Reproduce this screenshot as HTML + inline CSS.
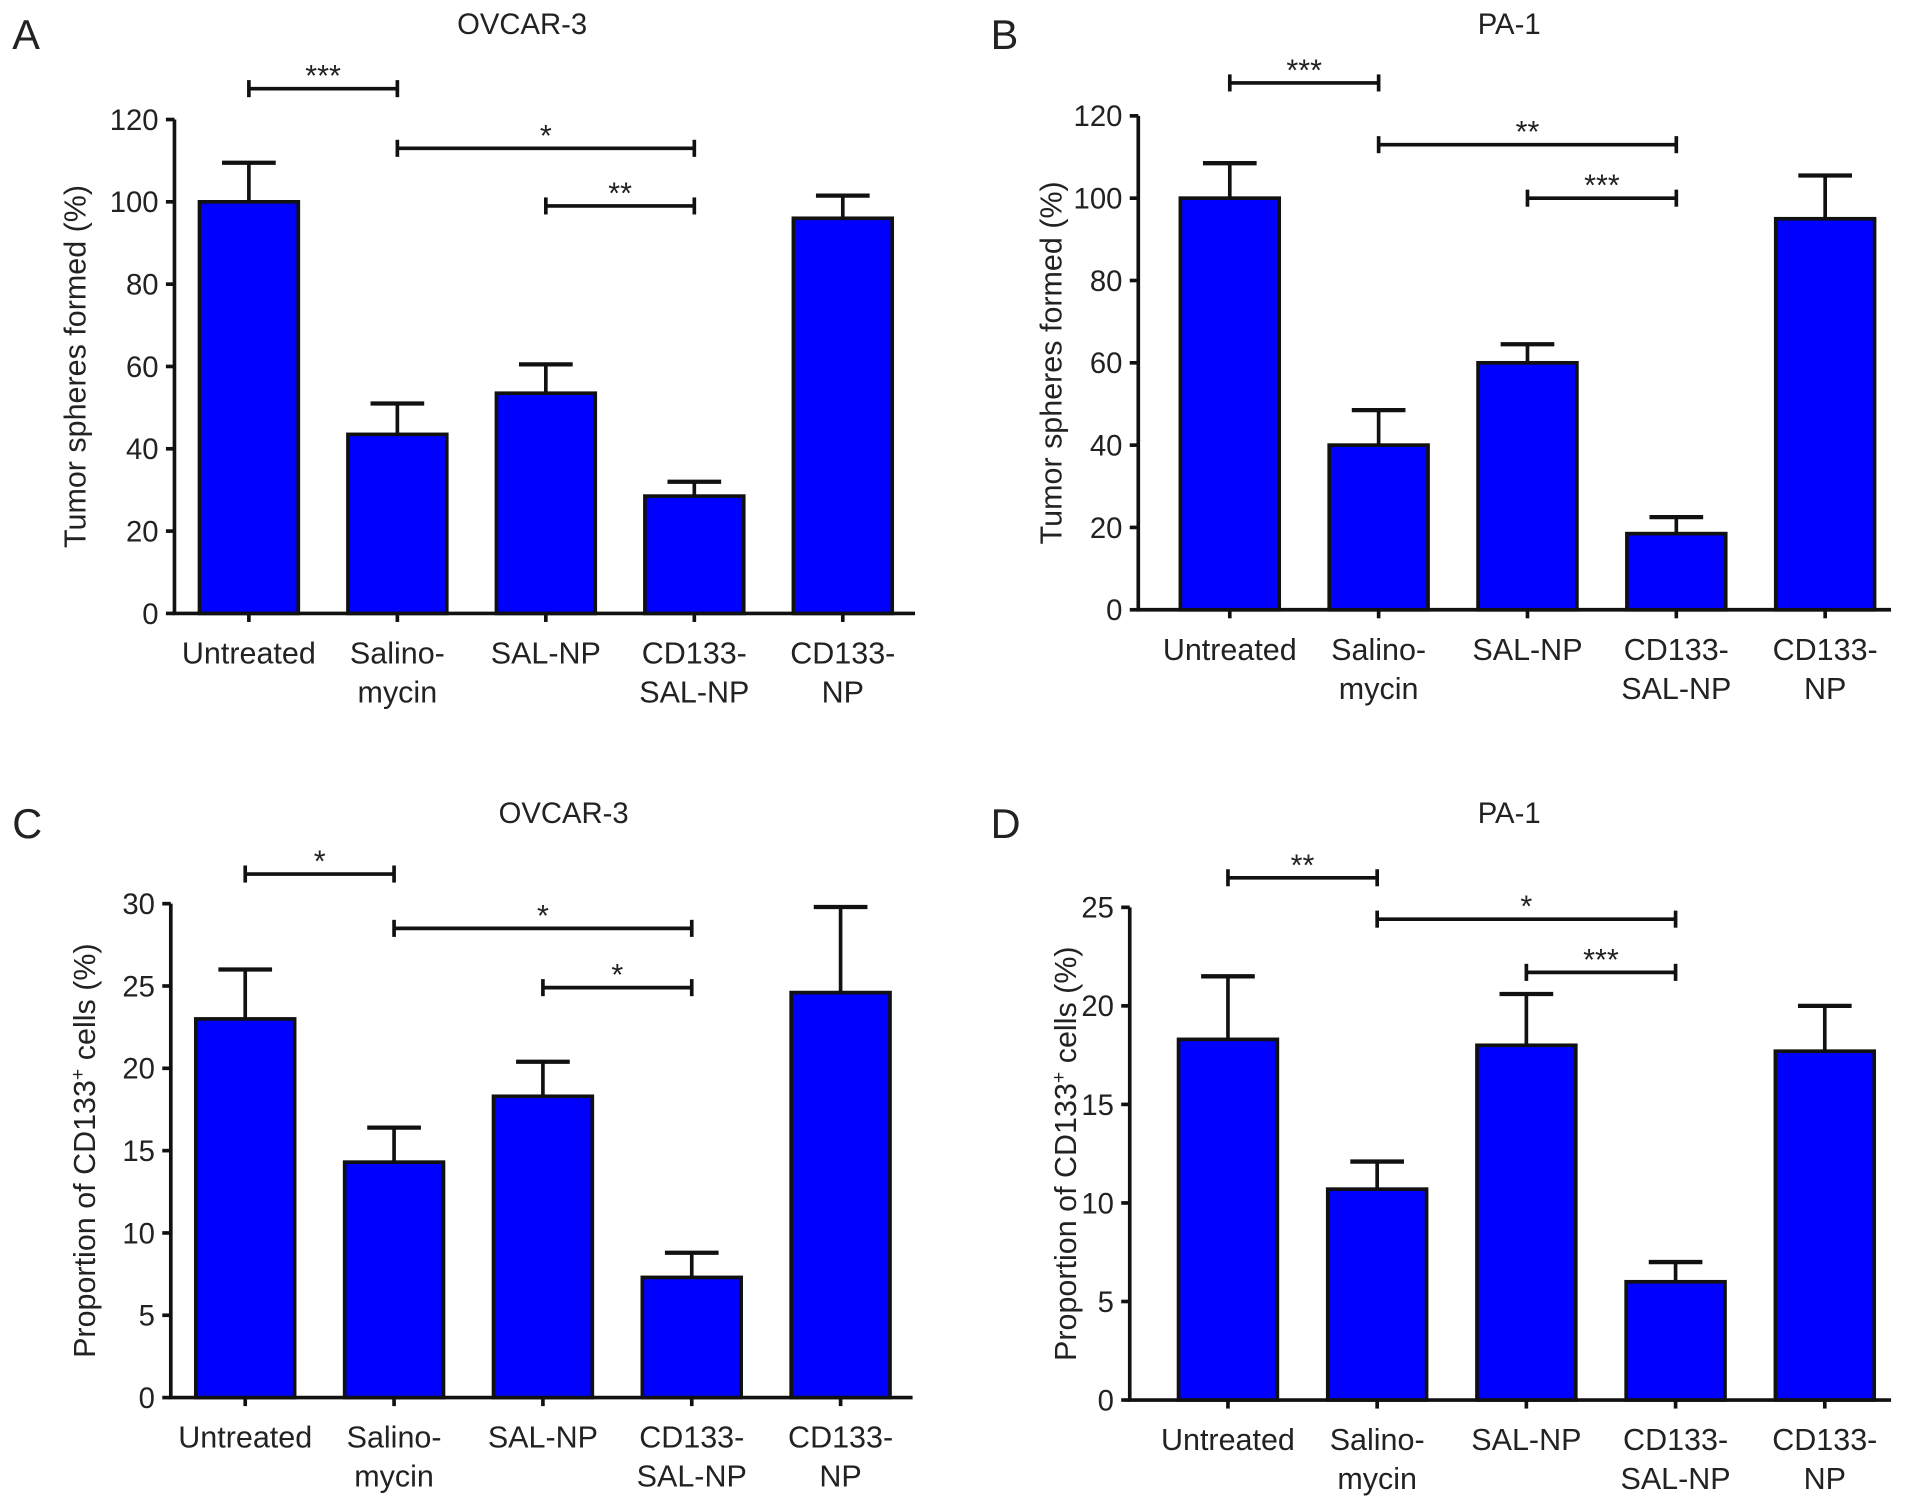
<!DOCTYPE html>
<html><head><meta charset="utf-8"><style>
html,body{margin:0;padding:0;background:#fff;}
svg{display:block;}
text{font-family:"Liberation Sans",sans-serif;fill:#222;}
</style></head><body>
<svg id="fig" width="1913" height="1511" viewBox="0 0 1568 1239" preserveAspectRatio="none" xmlns="http://www.w3.org/2000/svg"></svg>
<script>
const categories = [["Untreated"],["Salino-","mycin"],["SAL-NP"],["CD133-","SAL-NP"],["CD133-","NP"]];
const valuesA = [100, 43.5, 53.5, 28.5, 96];
const errorsA = [109.5, 51, 60.5, 32, 101.5];
const valuesB = [100, 40, 60, 18.5, 95];
const errorsB = [108.5, 48.5, 64.5, 22.5, 105.5];
const valuesC = [23, 14.3, 18.3, 7.3, 24.6];
const errorsC = [26, 16.4, 20.4, 8.8, 29.8];
const valuesD = [18.3, 10.7, 18, 6, 17.7];
const errorsD = [21.5, 12.1, 20.6, 7, 20];
const ticksAB = [0, 20, 40, 60, 80, 100, 120];
const ticksC = [0, 5, 10, 15, 20, 25, 30];
const ticksD = [0, 5, 10, 15, 20, 25];
const sigA = [[0,1,"***",127.5],[1,3,"*",113],[2,3,"**",99]];
const sigB = [[0,1,"***",128],[1,3,"**",113],[2,3,"***",100]];
const sigC = [[0,1,"*",31.8],[1,3,"*",28.5],[2,3,"*",24.9]];
const sigD = [[0,1,"**",26.5],[1,3,"*",24.4],[2,3,"***",21.7]];

const svg = document.getElementById('fig');
const NS = 'http://www.w3.org/2000/svg';
function mk(tag, attrs, parent){const e=document.createElementNS(NS,tag);for(const k in attrs)e.setAttribute(k,attrs[k]);(parent||svg).appendChild(e);return e;}

function panel(cfg){
  const g = mk('g',{});
  
  
  const y = v => cfg.y0 - v / cfg.ymax * (cfg.y0 - cfg.yTop);
  const x = i => cfg.x0 + i * cfg.step;
  const bw = 81;
  let t = mk('text',{x:cfg.lx,y:cfg.ly,'font-size':34},g); t.textContent = cfg.letter;
  
  
  t = mk('text',{x:cfg.tx,y:cfg.ty,'font-size':24,'text-anchor':'middle'},g); t.textContent = cfg.title;
  
  
  let a = mk('line',{x1:cfg.ax,y1:cfg.yTop,x2:cfg.ax,y2:cfg.y0,stroke:'#111','stroke-width':3},g);
  
  
  a = mk('line',{x1:cfg.ax-1.5,y1:cfg.y0,x2:cfg.axEnd,y2:cfg.y0,stroke:'#111','stroke-width':3},g);
  
  
  cfg.ticks.forEach(v=>{
    mk('line',{x1:cfg.ax-7,y1:y(v),x2:cfg.ax,y2:y(v),stroke:'#111','stroke-width':3},g);
    const tl = mk('text',{x:cfg.ax-13,y:y(v)+8.5,'font-size':24,'text-anchor':'end'},g);
    tl.textContent = v;
    
    
  });
  const yl = mk('text',{x:0,y:0,'font-size':25,'text-anchor':'middle',transform:`translate(${cfg.ylx},${(cfg.y0+cfg.yTop)/2}) rotate(-90)`},g);
  if(cfg.sup){yl.innerHTML='Proportion of CD133<tspan baseline-shift="super" font-size="16">+</tspan> cells (%)';}
  else yl.textContent = 'Tumor spheres formed (%)';
  
  
  cfg.vals.forEach((v,i)=>{
    const cx = x(i);
    const er = mk('g',{},g);
    
    
    mk('line',{x1:cx,y1:y(v),x2:cx,y2:y(cfg.errs[i]),stroke:'#111','stroke-width':3},er);
    mk('line',{x1:cx-22,y1:y(cfg.errs[i]),x2:cx+22,y2:y(cfg.errs[i]),stroke:'#111','stroke-width':3.5},er);
    const r = mk('rect',{x:cx-bw/2,y:y(v),width:bw,height:cfg.y0-y(v),fill:'#0000ff',stroke:'#111','stroke-width':3},g);
    
    
    mk('line',{x1:cx,y1:cfg.y0,x2:cx,y2:cfg.y0+7,stroke:'#111','stroke-width':3},g);
    categories[i].forEach((s,k)=>{
      const c = mk('text',{x:cx,y:cfg.y0+41+k*32,'font-size':25,'text-anchor':'middle'},g);
      c.textContent = s;
      
      
    });
  });
  cfg.sig.forEach(s=>{
    const x1 = x(s[0]), x2 = x(s[1]);
    const yy = y(s[3]);
    const sg = mk('g',{},g);
    
    
    mk('line',{x1:x1,y1:yy,x2:x2,y2:yy,stroke:'#111','stroke-width':3},sg);
    mk('line',{x1:x1,y1:yy-7,x2:x1,y2:yy+7,stroke:'#111','stroke-width':3},sg);
    mk('line',{x1:x2,y1:yy-7,x2:x2,y2:yy+7,stroke:'#111','stroke-width':3},sg);
    const st = mk('text',{x:(x1+x2)/2,y:yy-2,'font-size':25,'text-anchor':'middle'},sg);
    st.textContent = s[2];
  });
}
panel({letter:'A',title:'OVCAR-3',lx:10,ly:40,tx:428,ty:28,ax:143,axEnd:750,y0:503,yTop:98,ymax:120,x0:204,step:121.7,ticks:ticksAB,vals:valuesA,errs:errorsA,sig:sigA,ylx:70});
panel({letter:'B',title:'PA-1',lx:812,ly:40,tx:1237,ty:28,ax:933,axEnd:1550,y0:500,yTop:95,ymax:120,x0:1008,step:122,ticks:ticksAB,vals:valuesB,errs:errorsB,sig:sigB,ylx:870});
panel({letter:'C',title:'OVCAR-3',lx:10,ly:687,tx:462,ty:675,ax:140,axEnd:748,y0:1146,yTop:741,ymax:30,x0:201,step:122,ticks:ticksC,vals:valuesC,errs:errorsC,sig:sigC,ylx:78,sup:true});
panel({letter:'D',title:'PA-1',lx:812,ly:687,tx:1237,ty:675,ax:926,axEnd:1550,y0:1148,yTop:744,ymax:25,x0:1006.5,step:122.3,ticks:ticksD,vals:valuesD,errs:errorsD,sig:sigD,ylx:882,sup:true});
</script>
</body></html>
